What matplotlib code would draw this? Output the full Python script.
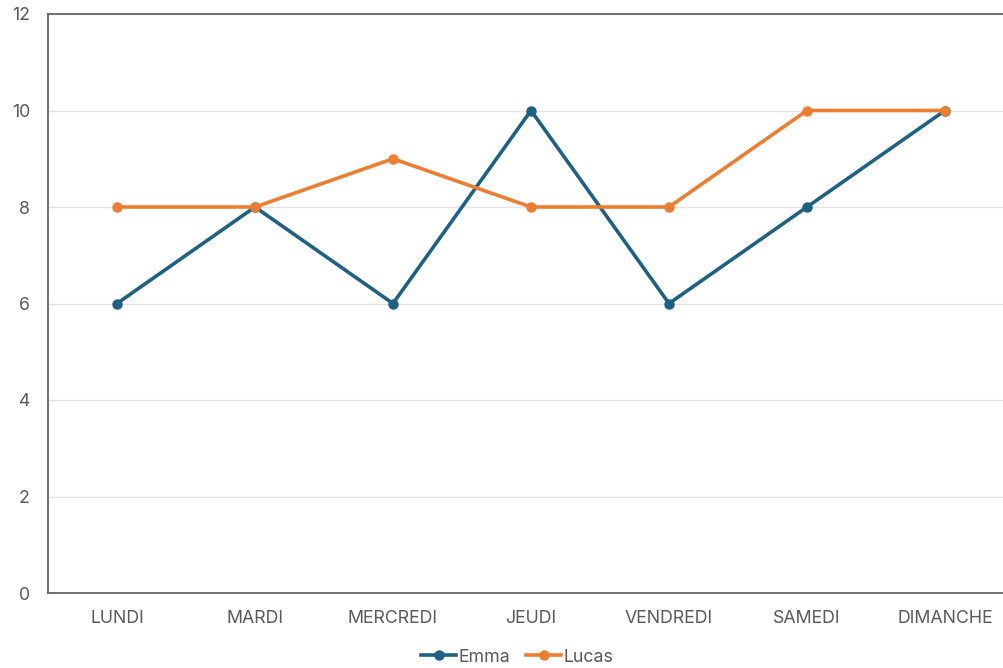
import matplotlib.pyplot as plt
import numpy as np

days = ["LUNDI", "MARDI", "MERCREDI", "JEUDI", "VENDREDI", "SAMEDI", "DIMANCHE"]
emma = [6, 8, 6, 10, 6, 8, 10]
lucas = [8, 8, 9, 8, 8, 10, 10]

plt.rcParams["font.family"] = ["Inter", "DejaVu Sans"]

fig = plt.figure(figsize=(10.04, 6.68), dpi=100)
ax = fig.add_axes([48 / 1004, 75 / 668, 966 / 1004, 579 / 668])

x = np.arange(len(days))
ax.plot(x, emma, color="#1f6185", linewidth=2.6, marker="o", markersize=6.5, label="Emma", zorder=3)
ax.plot(x, lucas, color="#ed7d31", linewidth=2.6, marker="o", markersize=6.5, label="Lucas", zorder=4)

ax.set_xlim(-0.5, len(days) - 0.5)
ax.set_ylim(0, 12)
ax.set_yticks(range(0, 13, 2))
ax.set_xticks(x)
ax.set_xticklabels(days)
ax.tick_params(axis="both", length=0, colors="#595959", labelsize=12.8)
ax.tick_params(axis="x", pad=12)
ax.tick_params(axis="y", pad=13)
ax.grid(axis="y", color="#e3e3e3", linewidth=1)
ax.set_axisbelow(True)

for side in ["left", "top", "bottom"]:
    ax.spines[side].set_color("#666666")
    ax.spines[side].set_linewidth(1.3)
ax.spines["right"].set_visible(False)

fig.legend(loc="center", bbox_to_anchor=(517 / 1004, 1 - 657 / 668), ncol=2, frameon=False,
           fontsize=12.8, labelcolor="#595959", handlelength=2.0, handletextpad=0.1,
           columnspacing=0.9)

fig.savefig("out.png", dpi=100)
